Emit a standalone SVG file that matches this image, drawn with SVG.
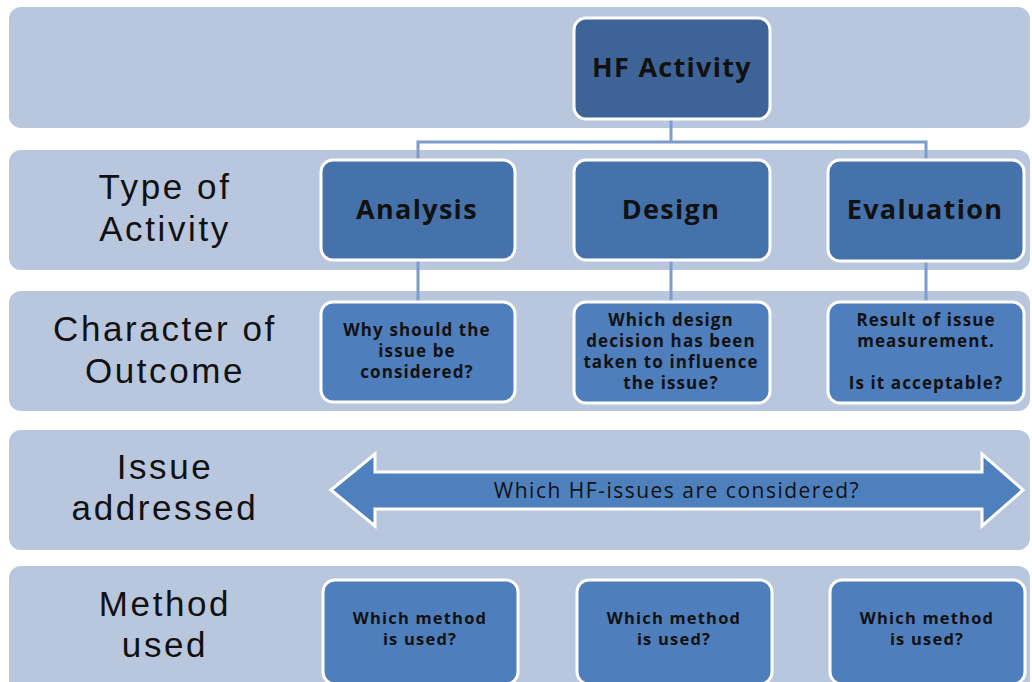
<svg xmlns="http://www.w3.org/2000/svg" width="1032" height="682" viewBox="0 0 1032 682">
<style>
.band{fill:#B9C7DE}
.lbl{font-family:"Liberation Sans",Arial,sans-serif;font-size:35px;letter-spacing:2.6px;fill:#111;text-anchor:middle}
.box{stroke:#fff;stroke-width:3}
.top{fill:#3E6497}
.l2{fill:#4672AB}
.l3{fill:#4F7EBD}
.t1{font-family:"Open Sans","Liberation Sans",sans-serif;font-weight:bold;font-size:27px;letter-spacing:1.3px;fill:#111;text-anchor:middle}
.t3{font-family:"Open Sans","Liberation Sans",sans-serif;font-weight:bold;font-size:17px;letter-spacing:1.1px;fill:#111;text-anchor:middle}
.t5{font-family:"Open Sans","Liberation Sans",sans-serif;font-weight:bold;font-size:16.5px;letter-spacing:1.2px;fill:#111;text-anchor:middle}
.con{fill:none;stroke:#7C9CCB;stroke-width:3}
</style>
<rect width="1032" height="682" fill="#fff"/>
<g id="bands">
<rect class="band" x="9" y="7" width="1021" height="121" rx="12"/>
<rect class="band" x="9" y="150" width="1021" height="120" rx="12"/>
<rect class="band" x="9" y="291" width="1021" height="120" rx="12"/>
<rect class="band" x="9" y="430" width="1021" height="120" rx="12"/>
<rect class="band" x="9" y="566" width="1021" height="130" rx="12"/>
</g>
<g id="row-labels">
<text class="lbl" x="165" y="199">Type of</text>
<text class="lbl" x="165" y="241">Activity</text>
<text class="lbl" x="165" y="341">Character of</text>
<text class="lbl" x="165" y="383">Outcome</text>
<text class="lbl" x="165" y="479">Issue</text>
<text class="lbl" x="165" y="520">addressed</text>
<text class="lbl" x="165" y="616">Method</text>
<text class="lbl" x="165" y="657">used</text>
</g>
<g id="connectors">
<path class="con" d="M671 119 V142 M418 160 V142 H926 V160"/>
<path class="con" d="M418 260 V302 M671 260 V302 M926 261 V302"/>
</g>
<g id="hf-activity">
<rect class="box top" x="574" y="18" width="196" height="101" rx="12"/>
<text class="t1" x="672" y="77">HF Activity</text>
</g>
<g id="analysis">
<rect class="box l2" x="321" y="160" width="194" height="100" rx="12"/>
<text class="t1" x="417" y="219">Analysis</text>
</g>
<g id="design">
<rect class="box l2" x="574" y="160" width="196" height="100" rx="12"/>
<text class="t1" x="671" y="219">Design</text>
</g>
<g id="evaluation">
<rect class="box l2" x="828" y="160" width="196" height="101" rx="12"/>
<text class="t1" x="925" y="219">Evaluation</text>
</g>
<g id="outcome-analysis">
<rect class="box l3" x="321" y="302" width="194" height="100" rx="12"/>
<text class="t3" x="417" y="336">Why should the</text>
<text class="t3" x="417" y="357">issue be</text>
<text class="t3" x="417" y="378">considered?</text>
</g>
<g id="outcome-design">
<rect class="box l3" x="574" y="302" width="196" height="101" rx="12"/>
<text class="t3" x="671" y="326">Which design</text>
<text class="t3" x="671" y="347">decision has been</text>
<text class="t3" x="671" y="368">taken to influence</text>
<text class="t3" x="671" y="389">the issue?</text>
</g>
<g id="outcome-evaluation">
<rect class="box l3" x="828" y="302" width="196" height="101" rx="12"/>
<text class="t3" x="926" y="326">Result of issue</text>
<text class="t3" x="926" y="347">measurement.</text>
<text class="t3" x="926" y="389">Is it acceptable?</text>
</g>
<g id="issues-arrow">
<polygon points="331,490 375,454 375,472 982,472 982,454 1023,490 982,526 982,509 375,509 375,526" fill="#4F80BE" stroke="#fff" stroke-width="3" stroke-linejoin="miter"/>
<text x="677" y="498" font-family="'Open Sans','Liberation Sans',sans-serif" font-size="21" letter-spacing="1.5" fill="#111" text-anchor="middle">Which HF-issues are considered?</text>
</g>
<g id="method-analysis">
<rect class="box l3" x="323" y="580" width="195" height="104" rx="12"/>
<text class="t5" x="420" y="624">Which method</text>
<text class="t5" x="420" y="645">is used?</text>
</g>
<g id="method-design">
<rect class="box l3" x="577" y="580" width="195" height="104" rx="12"/>
<text class="t5" x="674" y="624">Which method</text>
<text class="t5" x="674" y="645">is used?</text>
</g>
<g id="method-evaluation">
<rect class="box l3" x="830" y="580" width="195" height="104" rx="12"/>
<text class="t5" x="927" y="624">Which method</text>
<text class="t5" x="927" y="645">is used?</text>
</g>
</svg>
